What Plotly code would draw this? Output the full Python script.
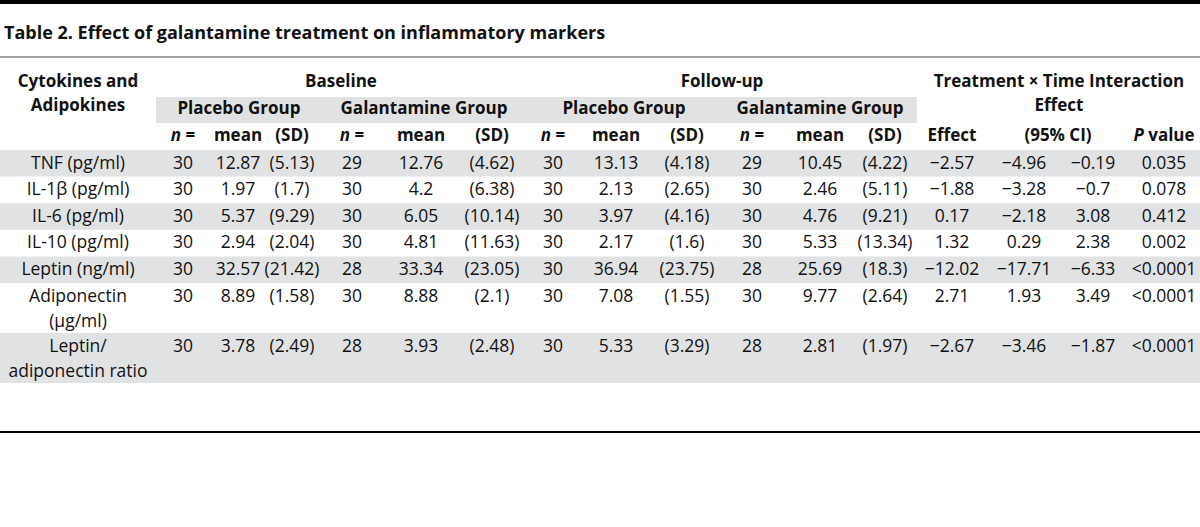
import plotly.graph_objects as go

# ---------------- data ----------------
title_text = "Table 2. Effect of galantamine treatment on inflammatory markers"
markers = ["TNF (pg/ml)", "IL-1β (pg/ml)", "IL-6 (pg/ml)", "IL-10 (pg/ml)",
           "Leptin (ng/ml)", "Adiponectin<br>(μg/ml)", "Leptin/<br>adiponectin ratio"]

base_placebo_n = [30, 30, 30, 30, 30, 30, 30]
base_placebo_mean = [12.87, 1.97, 5.37, 2.94, 32.57, 8.89, 3.78]
base_placebo_sd = [5.13, 1.7, 9.29, 2.04, 21.42, 1.58, 2.49]

base_galant_n = [29, 30, 30, 30, 28, 30, 28]
base_galant_mean = [12.76, 4.2, 6.05, 4.81, 33.34, 8.88, 3.93]
base_galant_sd = [4.62, 6.38, 10.14, 11.63, 23.05, 2.1, 2.48]

fu_placebo_n = [30, 30, 30, 30, 30, 30, 30]
fu_placebo_mean = [13.13, 2.13, 3.97, 2.17, 36.94, 7.08, 5.33]
fu_placebo_sd = [4.18, 2.65, 4.16, 1.6, 23.75, 1.55, 3.29]

fu_galant_n = [29, 30, 30, 30, 28, 30, 28]
fu_galant_mean = [10.45, 2.46, 4.76, 5.33, 25.69, 9.77, 2.81]
fu_galant_sd = [4.22, 5.11, 9.21, 13.34, 18.3, 2.64, 1.97]

effect = [-2.57, -1.88, 0.17, 1.32, -12.02, 2.71, -2.67]
ci_low = [-4.96, -3.28, -2.18, 0.29, -17.71, 1.93, -3.46]
ci_high = [-0.19, -0.7, 3.08, 2.38, -6.33, 3.49, -1.87]
p_value = ["0.035", "0.078", "0.412", "0.002", "<0.0001", "<0.0001", "<0.0001"]

stub_header = "Cytokines and<br>Adipokines"
period_headers = ["Baseline", "Follow-up"]
group_headers = ["Placebo Group", "Galantamine Group", "Placebo Group", "Galantamine Group"]
effect_header = "Treatment × Time Interaction<br>Effect"
group_sub_headers = ["<i>n</i> =", "mean", "(SD)"]
effect_sub_headers = ["Effect", "(95% CI)", "<i>P</i> value"]

# ---------------- layout constants ----------------
W, H = 1200, 527
FONT = "Open Sans, DejaVu Sans, sans-serif"
TXT = "#111111"
GRAY = "#e1e2e3"
FS = 17.5
FS_BOLD = 17

label_x = 78
col_x = [183, 238, 292, 352, 421, 492, 553, 616, 687, 752, 820, 885, 952, 1024, 1093, 1164]
group_x = [239, 424, 624, 820]
period_x = [341, 722]
effect_x = 1059
effect_sub_x = [952, 1058, 1164]

head_y1, head_y2, group_y, sub_y = 83, 107, 110, 137
first_row_top = 150
single_h = 26.6
extra_line_h = 23.4
first_line_off = 14.2
line_gap = 25


def fmt(v):
    return f"{v:g}".replace("-", "−")


def fmt_sd(v):
    return "(" + fmt(v) + ")"


columns = [
    [str(v) for v in base_placebo_n], [fmt(v) for v in base_placebo_mean], [fmt_sd(v) for v in base_placebo_sd],
    [str(v) for v in base_galant_n], [fmt(v) for v in base_galant_mean], [fmt_sd(v) for v in base_galant_sd],
    [str(v) for v in fu_placebo_n], [fmt(v) for v in fu_placebo_mean], [fmt_sd(v) for v in fu_placebo_sd],
    [str(v) for v in fu_galant_n], [fmt(v) for v in fu_galant_mean], [fmt_sd(v) for v in fu_galant_sd],
    [fmt(v) for v in effect], [fmt(v) for v in ci_low], [fmt(v) for v in ci_high], p_value,
]

# row geometry
row_tops, row_bottoms, row_first_y = [], [], []
top = first_row_top
for lab in markers:
    n_lines = len(lab.split("<br>"))
    h = single_h + extra_line_h * (n_lines - 1)
    row_tops.append(top)
    row_bottoms.append(top + h)
    row_first_y.append(top + first_line_off)
    top += h

fig = go.Figure()


def add_text(xs, ys, texts, bold=False):
    if bold:
        texts = ["<b>" + t + "</b>" for t in texts]
    fig.add_trace(go.Scatter(
        x=xs, y=ys, text=texts, mode="text", textposition="middle center",
        textfont=dict(family=FONT, size=FS_BOLD if bold else FS, color=TXT),
        hoverinfo="skip", showlegend=False, cliponaxis=False))


# stub labels (split lines)
lx, ly, lt = [], [], []
for lab, y0 in zip(markers, row_first_y):
    for k, line in enumerate(lab.split("<br>")):
        lx.append(label_x)
        ly.append(y0 + k * line_gap)
        lt.append(line)
add_text(lx, ly, lt)

# data columns
for cx, vals in zip(col_x, columns):
    add_text([cx] * len(vals), row_first_y, vals)

# headers
hx, hy, ht = [], [], []
for k, line in enumerate(stub_header.split("<br>")):
    hx.append(label_x); hy.append(head_y1 + k * (head_y2 - head_y1)); ht.append(line)
for k, line in enumerate(effect_header.split("<br>")):
    hx.append(effect_x); hy.append(head_y1 + k * (head_y2 - head_y1)); ht.append(line)
for px, p in zip(period_x, period_headers):
    hx.append(px); hy.append(head_y1); ht.append(p)
for gx, g in zip(group_x, group_headers):
    hx.append(gx); hy.append(group_y); ht.append(g)
for cx, s in zip(col_x[:12], group_sub_headers * 4):
    hx.append(cx); hy.append(sub_y); ht.append(s)
for cx, s in zip(effect_sub_x, effect_sub_headers):
    hx.append(cx); hy.append(sub_y); ht.append(s)
add_text(hx, hy, ht, bold=True)

# shapes
shapes = [
    dict(type="rect", xref="x", yref="y", x0=0, x1=W, y0=0, y1=4,
         fillcolor="#000000", line=dict(width=0), layer="below"),
    dict(type="line", xref="x", yref="y", x0=0, x1=W, y0=57, y1=57,
         line=dict(color="#444444", width=1), layer="below"),
    dict(type="rect", xref="x", yref="y", x0=156, x1=917, y0=97, y1=123,
         fillcolor=GRAY, line=dict(width=0), layer="below"),
    dict(type="line", xref="x", yref="y", x0=0, x1=W, y0=432, y1=432,
         line=dict(color="#000000", width=2), layer="below"),
]
for i, (t, b) in enumerate(zip(row_tops, row_bottoms)):
    if i % 2 == 0:
        shapes.append(dict(type="rect", xref="x", yref="y", x0=0, x1=W, y0=t, y1=b,
                           fillcolor=GRAY, line=dict(width=0), layer="below"))

fig.update_layout(
    width=W, height=H, autosize=False,
    margin=dict(l=0, r=0, t=0, b=0),
    paper_bgcolor="white", plot_bgcolor="white",
    xaxis=dict(range=[0, W], visible=False, fixedrange=True),
    yaxis=dict(range=[H, 0], visible=False, fixedrange=True),
    shapes=shapes,
    annotations=[dict(x=2, y=32, xref="x", yref="y", xanchor="left", yanchor="middle",
                      text="<b>" + title_text + "</b>", showarrow=False,
                      font=dict(family=FONT, size=18, color=TXT))],
)

fig.write_html("out.html", config={"displayModeBar": False},
               post_script="document.body.style.margin='0';document.body.style.overflow='hidden';")
